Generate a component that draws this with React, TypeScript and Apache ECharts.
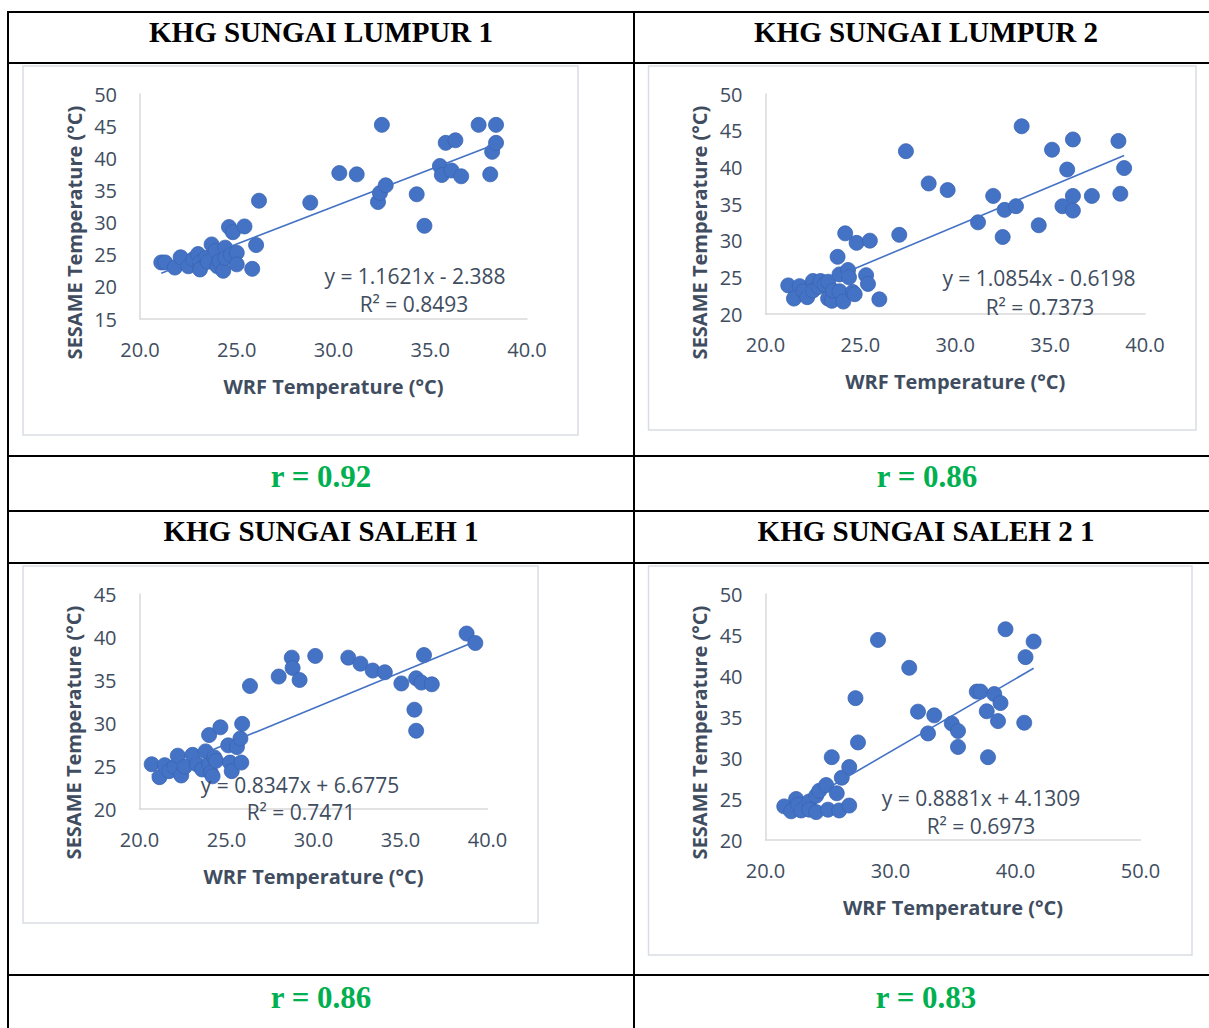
import React, { useEffect, useRef } from 'react';
import * as echarts from 'echarts';

// ---------- text ----------
const panelTitles = ['KHG SUNGAI LUMPUR 1', 'KHG SUNGAI LUMPUR 2', 'KHG SUNGAI SALEH 1', 'KHG SUNGAI SALEH 2 1'];
const correlationLabels = ['r = 0.92', 'r = 0.86', 'r = 0.86', 'r = 0.83'];
const equationLabels = ['y = 1.1621x - 2.388', 'y = 1.0854x - 0.6198', 'y = 0.8347x + 6.6775', 'y = 0.8881x + 4.1309'];
const r2Labels = ['R² = 0.8493', 'R² = 0.7373', 'R² = 0.7471', 'R² = 0.6973'];
const xAxisTitle = 'WRF Temperature (°C)';
const yAxisTitle = 'SESAME Temperature (°C)';

// ---------- trendline coefficients ----------
const slopes = [1.1621, 1.0854, 0.8347, 0.8881];
const intercepts = [-2.388, -0.6198, 6.6775, 4.1309];

// ---------- axis ranges ----------
const xMins = [20, 20, 20, 20];
const xMaxs = [40, 40, 40, 50];
const xIntervals = [5, 5, 5, 10];
const yMins = [15, 20, 20, 20];
const yMaxs = [50, 50, 45, 50];
const yIntervals = [5, 5, 5, 5];

// ---------- data: KHG SUNGAI LUMPUR 1 ----------
const lumpur1X = [21.1, 21.3, 21.8, 22.1, 22.5, 22.75, 23.0, 23.1, 23.1, 23.4, 23.5, 23.7, 23.9, 24.0, 24.1, 24.3, 24.4, 24.4, 24.6, 24.7, 24.8, 25.0, 25.0, 25.4, 25.8, 26.0, 26.15,
  28.8, 30.3, 31.2, 32.3, 32.4, 32.5, 32.7, 34.3, 34.7, 35.5, 35.6, 35.8, 36.1, 36.3, 36.6, 37.5, 38.1, 38.2, 38.4, 38.4];
const lumpur1Y = [23.8, 23.8, 23.0, 24.6, 23.2, 24.3, 25.1, 23.8, 22.7, 24.5, 23.9, 26.6, 25.6, 23.2, 24.0, 22.5, 26.1, 24.5, 29.3, 25.0, 28.5, 25.3, 23.5, 29.4, 22.8, 26.5, 33.4,
  33.1, 37.7, 37.5, 33.2, 34.6, 45.2, 35.8, 34.4, 29.5, 38.8, 37.4, 42.4, 38.1, 42.8, 37.2, 45.2, 37.5, 41.0, 45.2, 42.4];

// ---------- data: KHG SUNGAI LUMPUR 2 ----------
const lumpur2X = [21.2, 21.5, 21.8, 22.0, 22.2, 22.5, 22.5, 22.8, 22.9, 23.1, 23.3, 23.3, 23.5, 23.55, 23.8, 23.9, 23.9, 24.1, 24.2, 24.35, 24.4, 24.6, 24.7, 24.8, 25.3, 25.4, 25.5, 26.0,
  27.05, 27.4, 28.6, 29.6, 31.2, 32.0, 32.5, 32.6, 33.2, 33.5, 34.4, 35.1, 35.65, 35.9, 36.2, 36.2, 36.2, 37.2, 38.6, 38.7, 38.9];
const lumpur2Y = [23.9, 22.1, 23.8, 23.1, 22.3, 24.5, 23.2, 23.7, 24.5, 24.0, 24.4, 22.1, 21.8, 23.2, 27.8, 25.4, 23.1, 21.7, 31.0, 26.0, 25.0, 23.0, 22.7, 29.7, 25.3, 24.1, 30.0, 22.0,
  30.8, 42.2, 37.8, 36.9, 32.5, 36.1, 30.5, 34.2, 34.7, 45.6, 32.1, 42.4, 34.7, 39.7, 43.8, 36.1, 34.1, 36.1, 43.6, 36.4, 39.9];

// ---------- data: KHG SUNGAI SALEH 1 ----------
const saleh1X = [20.7, 21.15, 21.45, 21.7, 22.0, 22.2, 22.4, 22.6, 23.05, 23.3, 23.6, 23.8, 24.0, 24.0, 24.1, 24.2, 24.3, 24.4, 24.65, 25.1, 25.2, 25.3, 25.6, 25.8, 25.85, 25.9, 26.35,
  28.0, 28.75, 28.8, 29.2, 30.1, 32.0, 32.7, 33.4, 34.1, 35.05, 35.8, 35.9, 35.9, 36.2, 36.35, 36.8, 38.8, 39.3];
const saleh1Y = [25.2, 23.7, 25.1, 24.4, 24.9, 26.2, 23.9, 24.9, 26.3, 25.2, 24.6, 26.7, 28.6, 25.2, 24.2, 23.8, 26.0, 25.6, 29.5, 27.4, 25.4, 24.4, 27.2, 28.2, 25.4, 29.9, 34.3,
  35.4, 37.6, 36.4, 35.0, 37.8, 37.6, 36.9, 36.1, 35.9, 34.6, 31.55, 35.2, 29.1, 34.7, 37.9, 34.5, 40.4, 39.3];

// ---------- data: KHG SUNGAI SALEH 2 1 ----------
const saleh2X = [21.5, 22.05, 22.45, 22.6, 22.85, 23.5, 23.5, 24.05, 24.05, 24.3, 24.85, 25.0, 25.3, 25.7, 25.9, 26.1, 26.7, 26.7, 27.2, 27.4,
  29.0, 31.5, 32.2, 33.0, 33.5, 34.9, 35.4, 35.4, 36.9, 37.2, 37.7, 37.8, 38.3, 38.6, 38.8, 39.2, 40.7, 40.8, 41.45];
const saleh2Y = [24.1, 23.5, 25.0, 24.3, 23.6, 24.7, 23.7, 25.4, 23.4, 26.0, 26.7, 23.7, 30.1, 25.7, 23.6, 27.6, 28.9, 24.2, 37.3, 31.9,
  44.4, 41.0, 35.65, 33.0, 35.2, 34.2, 33.3, 31.35, 38.1, 38.1, 35.7, 30.1, 37.8, 34.5, 36.7, 45.7, 34.3, 42.3, 44.2];

const panelX = [lumpur1X, lumpur2X, saleh1X, saleh2X];
const panelY = [lumpur1Y, lumpur2Y, saleh1Y, saleh2Y];

// ---------- layout (pixels) ----------
const layout = [
  { grid: { left: 140, top: 94, width: 387, height: 225 }, box: [23, 66, 555, 369], title: [321, 32], r: [321, 476], eq: [415, 276], r2: [414, 304], yPad: 52 },
  { grid: { left: 765.5, top: 94, width: 379.5, height: 220 }, box: [648.5, 66, 547.5, 364], title: [926, 32], r: [927, 476], eq: [1039, 278], r2: [1040, 307], yPad: 57 },
  { grid: { left: 139.5, top: 594, width: 348, height: 215 }, box: [23, 566, 515, 357], title: [321, 531], r: [321, 997], eq: [300, 785], r2: [301, 812], yPad: 62 },
  { grid: { left: 765.5, top: 594, width: 375, height: 246 }, box: [648.5, 566, 543.5, 389], title: [926, 531], r: [926, 997], eq: [981, 798], r2: [981, 826], yPad: 31 },
];

const FONT = "'Open Sans', sans-serif";
const SERIF = "'Liberation Serif', 'Times New Roman', serif";
const TXT = '#404d60';
const BLUE = '#4472C4';
const AXIS = '#d9d9d9';

const tableHLines = [12, 63, 456, 511, 563, 975];
const tableVLines = [8, 634];

export default function App() {
  const ref = useRef<HTMLDivElement>(null);

  useEffect(() => {
    if (!ref.current) return;
    const chart = echarts.init(ref.current, undefined, { renderer: 'svg' });

    const grids: any[] = [];
    const xAxes: any[] = [];
    const yAxes: any[] = [];
    const series: any[] = [];
    const graphics: any[] = [];

    tableHLines.forEach((y) => {
      graphics.push({ type: 'line', z: 0, shape: { x1: 7, y1: y, x2: 1209, y2: y }, style: { stroke: '#000', lineWidth: 2 } });
    });
    tableVLines.forEach((x) => {
      graphics.push({ type: 'line', z: 0, shape: { x1: x, y1: 11, x2: x, y2: 1028 }, style: { stroke: '#000', lineWidth: 2 } });
    });

    layout.forEach((L, i) => {
      grids.push({ left: L.grid.left, top: L.grid.top, width: L.grid.width, height: L.grid.height, containLabel: false });
      xAxes.push({
        gridIndex: i, type: 'value', min: xMins[i], max: xMaxs[i], interval: xIntervals[i],
        axisLine: { show: true, lineStyle: { color: AXIS, width: 1.5 } },
        axisTick: { show: false }, splitLine: { show: false },
        axisLabel: { color: TXT, fontSize: 20, fontFamily: FONT, margin: 20, formatter: (v: number) => v.toFixed(1) },
        name: xAxisTitle, nameLocation: 'middle', nameGap: 57,
        nameTextStyle: { color: TXT, fontSize: 20, fontWeight: 'bold', fontFamily: FONT },
      });
      yAxes.push({
        gridIndex: i, type: 'value', min: yMins[i], max: yMaxs[i], interval: yIntervals[i],
        axisLine: { show: true, lineStyle: { color: AXIS, width: 1.5 } },
        axisTick: { show: false }, splitLine: { show: false },
        axisLabel: { color: TXT, fontSize: 20, fontFamily: FONT, margin: 23 },
        name: yAxisTitle, nameLocation: 'middle', nameGap: 56,
        nameTextStyle: { color: TXT, fontSize: 20, fontWeight: 'bold', fontFamily: FONT, padding: [0, L.yPad, 0, 0] },
      });

      const xs = panelX[i];
      const ys = panelY[i];
      const pts = xs.map((x, k) => [x, ys[k]]);
      series.push({
        type: 'scatter', xAxisIndex: i, yAxisIndex: i, data: pts, symbolSize: 15,
        itemStyle: { color: BLUE, borderColor: '#3a64b2', borderWidth: 0.8, opacity: 1 },
        z: 2,
      });
      const xmin = Math.min(...xs);
      const xmax = Math.max(...xs);
      series.push({
        type: 'line', xAxisIndex: i, yAxisIndex: i, showSymbol: false, symbol: 'none',
        data: [[xmin, slopes[i] * xmin + intercepts[i]], [xmax, slopes[i] * xmax + intercepts[i]]],
        lineStyle: { color: BLUE, width: 1.6 }, z: 3, silent: true,
      });

      graphics.push({ type: 'rect', z: 0, shape: { x: L.box[0], y: L.box[1], width: L.box[2], height: L.box[3] }, style: { fill: 'none', stroke: '#d9dde3', lineWidth: 1.5 } });
      graphics.push({ type: 'text', z: 5, x: L.title[0], y: L.title[1], style: { text: panelTitles[i], align: 'center', verticalAlign: 'middle', fill: '#000', font: `bold 29px ${SERIF}` } });
      graphics.push({ type: 'text', z: 5, x: L.r[0], y: L.r[1], style: { text: correlationLabels[i], align: 'center', verticalAlign: 'middle', fill: '#00B050', font: `bold 31px ${SERIF}` } });
      graphics.push({ type: 'text', z: 5, x: L.eq[0], y: L.eq[1], style: { text: equationLabels[i], align: 'center', verticalAlign: 'middle', fill: TXT, font: `21px ${FONT}` } });
      graphics.push({ type: 'text', z: 5, x: L.r2[0], y: L.r2[1], style: { text: r2Labels[i], align: 'center', verticalAlign: 'middle', fill: TXT, font: `21px ${FONT}` } });
    });

    chart.setOption({
      animation: false,
      backgroundColor: '#fff',
      grid: grids,
      xAxis: xAxes,
      yAxis: yAxes,
      series,
      graphic: { elements: graphics },
    });

    return () => chart.dispose();
  }, []);

  return <div ref={ref} style={{ position: 'absolute', left: 0, top: 0, width: 1209, height: 1028 }} />;
}
